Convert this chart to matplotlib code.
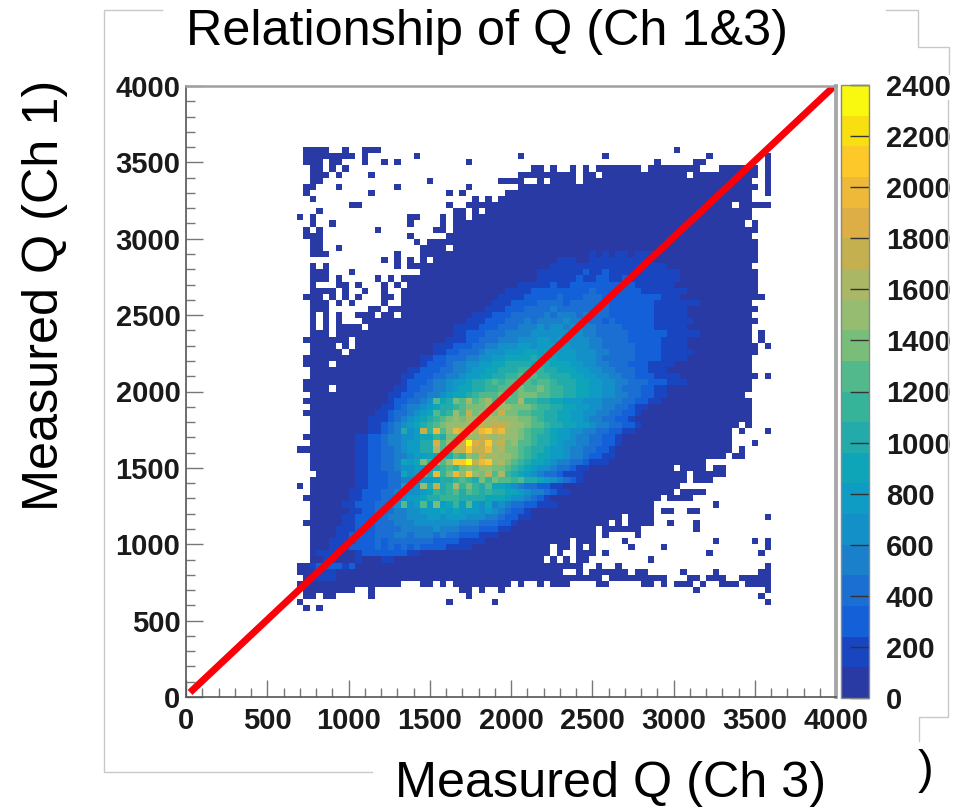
# Relationship of measured Q between channels 1 and 3, colz style histogram

import numpy as np
import matplotlib
matplotlib.use('Agg')
import matplotlib.pyplot as plt
from matplotlib.colors import ListedColormap, BoundaryNorm
from matplotlib.lines import Line2D
from matplotlib.ticker import MultipleLocator

binWidth = 40
nBins = 100
maxQ = 4000

# row bin -> x bins holding at least one count
filledBins = {
	89: "18-21 24 27-29 75",
	88: "18-25 27 35 51 64 80 89",
	87: "18-20 22-23 27 30 32 43 72 78-79 89",
	86: "19-20 22 24 53-54 56 59 61 63-69 71-78 82-87 89",
	85: "19-21 23 28 51-59 61-62 64-76 78-87 89",
	84: "19-20 37 48-51 54 56-59 61-86 89",
	83: "18-19 23 32 43 51-87 89",
	82: "18 28 40 42 49-86 89",
	81: "19 44 46 48-86",
	80: "25-26 40 43-83 85-89",
	79: "20 41-42 44 46-86",
	78: "17 19 34-35 39 41-42 44-86",
	77: "19 22 34 39 41-85 87",
	76: "18 20 29 38-39 41-87",
	75: "18-20 34 40-86",
	74: "19-20 35 37-87",
	73: "19-20 23 36-39 41-87",
	72: "19-21 32 36-87",
	71: "30 32 34 36 38-87",
	70: "19 21 32 34-86",
	69: "19-21 25 36-87",
	68: "19-21 23 29 31 33-87",
	67: "19 23-24 26 30 32 34-87",
	66: "19-22 24 27 30 33-87",
	65: "18-20 22 24 26 30-31 33-88",
	64: "19-21 23 25 30 33-86",
	63: "19-21 28-29 31-87",
	62: "19 21 23 26-28 30-31 33-86",
	61: "19 21 23 27-87",
	60: "19 21 23-26 28-86",
	59: "19-21 23-86 88",
	58: "18-24 26-86 88",
	57: "19-22 24 26-87 89",
	56: "19-23 25-87",
	55: "18-86",
	54: "18-21 23-86",
	53: "19-86",
	52: "19-87 89",
	51: "18-86",
	50: "18-21 23-86",
	49: "19-85",
	48: "18-86",
	47: "19-86",
	46: "18-86",
	45: "19-86",
	44: "19-84 86",
	43: "19-83 85 89",
	42: "18-83",
	41: "19-83 87",
	40: "17-83 85",
	39: "19-82 84-85",
	38: "19-79",
	37: "19-74 76-79 81-82",
	36: "20-76 78-82",
	35: "19-76 78-80",
	34: "17 19-75",
	33: "19-74 76-79",
	32: "18-72 74-77",
	31: "19-71 81",
	30: "19-71 73-74 77-78",
	29: "19-66 68-71 89",
	28: "18-64 66 68-71 74 78",
	27: "19-62 64-69 78",
	26: "19-62 64 69",
	25: "19-58 60-62 67 81 87 89",
	24: "19-55 57-58 60 62 68 73 89",
	23: "19-55 57 60-62 64 80 88",
	22: "19-54 56 58 60-61 71",
	21: "17-60 63 66 89",
	20: "17-57 60 62-67 69-70 76 81 88-89",
	19: "18-63 65-73 77-78 80-82 85-89",
	18: "17-32 36-37 39 41-49 51 54 56-58 63-64 70-71 73 75-77 79 82-84 86-89",
	17: "18-25 28 42-43 45 48 78 89",
	16: "18-19 21-22 28 43 88",
	15: "17 40 47 89",
	14: "18 20",
}

# row bin -> (first x bin, contour level per bin in base 36), the rest of a filled row is level 0
coreLevels = {
	72: (62, "1010110111"),
	71: (57, "111001111111111"),
	70: (56, "111111111111111111"),
	69: (54, "1111111211211111111111"),
	68: (54, "1111112112211211111111"),
	67: (51, "111112112222222222111111"),
	66: (49, "1111222222222322222221111111"),
	65: (48, "1111222223222333222222222111"),
	64: (47, "11122223333233333322222221111111"),
	63: (46, "1112223333433333333222222211111"),
	62: (44, "111222333334344434333222222211111"),
	61: (43, "11122233343444454443323222222111111"),
	60: (41, "111122233344454554554433332222211111"),
	59: (41, "11222333444455555555443333322222211111"),
	58: (40, "1112233344455566565555443333222221111"),
	57: (38, "111222334455566566666555443333322221111"),
	56: (38, "1122333455566677677666555443333222211111"),
	55: (36, "11223334455667777877766655543333322221111"),
	54: (36, "122234455667788887887776655443332221111"),
	53: (34, "1122233445667788899898877766554433322111"),
	52: (33, "112223344566778899a9a9988877665544332221111"),
	51: (33, "12223445667889a9aa9a9aa988877665544333222111"),
	50: (32, "1122334456778899aaabaaba998877665543332211"),
	49: (31, "11223344567789aaabbabbbaa998877665544332211"),
	48: (31, "1223345a78badabdadaad998877666555444332211"),
	47: (30, "112344567889abbbcbccbbba99887766554433211"),
	46: (29, "112334567a89caebcebebbaa99887766554433221"),
	45: (28, "11123456789abcbdcdddcccbba988776654433221"),
	44: (28, "1123456789abcccddedeedccbaa988776654433221"),
	43: (28, "11234856e9gacgfheghfgccba9987665544332211"),
	42: (26, "11223445567798bbbdcedcdccba98876654433221"),
	41: (26, "112234456688facfejfehdebcaa98876554433221"),
	40: (26, "112233456688daaeeheegcdbba98876654433221"),
	39: (26, "112233445667798a9cbecdccba98776654432211"),
	38: (26, "1122334767b9eachhjeghcdba98776544332111"),
	37: (26, "11223345566789a9bcbccbba987655433211"),
	36: (26, "1122233756a8g9bgchcbead987654332111"),
	35: (26, "1122233445667889a98b9baa9a887654321"),
	34: (26, "1122233645c8e89d9b98a77654332211"),
	33: (25, "1122233445567989a8a989887765443211"),
	32: (25, "1122233456678899988887776554321"),
	31: (24, "112223345a56a6b6796a6574543322111"),
	30: (25, "1122333445566676766656543221"),
	29: (24, "11222334445556656665554432211"),
	28: (24, "112223334445555555444333221"),
	27: (23, "111222333344444544433322211"),
	26: (23, "1122223334434443433222111"),
	25: (22, "111122232333333322221111"),
	24: (22, "1112222323232322221111"),
	23: (20, "1110001222222211"),
	22: (21, "11000100011"),
	21: (19, "1222212"),
	20: (20, "111"),
	19: (20, "111"),
}

# contour bands of the palette, bottom to top
bandColors = ['#2a3aa5', '#1a45c0', '#1460d8', '#1b6fd2', '#1a80cc', '#1490c8', '#0e9cc5', '#0fa5b8', '#22abaa', '#35b49a',
	'#52b98c', '#78bd7a', '#95bc70', '#aab765', '#c5b04f', '#dcae45', '#eeb838', '#fcc82a', '#f8e010', '#f8f90e']
bandStep = 120

fitLineX = [25, 3985]
fitLineY = [30, 3995]

majorTicks = [0, 500, 1000, 1500, 2000, 2500, 3000, 3500, 4000]
barTicks = list(range(0, 2401, 200))

titleText = 'Relationship of Q (Ch 1&3)'
xLabelText = 'Measured Q (Ch 3)'
yLabelText = 'Measured Q (Ch 1)'

# pieces of the light frame left around the pasted plot, in pixels
framePieces = [
	[(162, 10), (104, 10), (104, 772), (372, 772)],
	[(886, 10), (918, 10), (918, 47), (949, 47), (949, 74)],
	[(948, 100), (948, 717), (919, 717), (919, 741)],
]

figW = 956
figH = 810


def px(x, y):
	return x / figW, 1 - y / figH


def axesRect(left, top, right, bottom):
	return [left / figW, 1 - bottom / figH, (right - left) / figW, (bottom - top) / figH]


def build_counts():
	counts = np.full((nBins, nBins), np.nan)
	for row, spans in filledBins.items():
		for span in spans.split():
			parts = span.split('-')
			counts[row, int(parts[0]):int(parts[-1]) + 1] = 0.5 * bandStep
	for row, (first, levels) in coreLevels.items():
		for i, ch in enumerate(levels):
			if not np.isnan(counts[row, first + i]):
				counts[row, first + i] = (int(ch, 36) + 0.5) * bandStep
	return np.ma.masked_invalid(counts)


plt.rcParams['font.family'] = ['Liberation Sans', 'DejaVu Sans']

fig = plt.figure(figsize=(figW / 100, figH / 100), dpi=100)
ax = fig.add_axes(axesRect(186, 86, 836, 697))

edges = np.arange(nBins + 1) * binWidth
cmap = ListedColormap(bandColors)
norm = BoundaryNorm(np.arange(len(bandColors) + 1) * bandStep, cmap.N)
mesh = ax.pcolormesh(edges, edges, build_counts(), cmap=cmap, norm=norm, linewidth=0, rasterized=True)
ax.plot(fitLineX, fitLineY, color='#fa0008', lw=5, solid_capstyle='butt')
ax.set_xlim(0, maxQ)
ax.set_ylim(0, maxQ)

ax.set_xticks(majorTicks)
ax.set_yticks(majorTicks)
ax.xaxis.set_minor_locator(MultipleLocator(100))
ax.yaxis.set_minor_locator(MultipleLocator(100))
ax.tick_params(which='major', direction='in', length=12.5, width=1, color='#777777', labelsize=21)
ax.tick_params(which='minor', direction='in', length=6.5, width=1, color='#777777')
ax.tick_params(axis='x', which='major', pad=7)
ax.tick_params(axis='y', which='major', pad=4)
for lab in ax.get_xticklabels() + ax.get_yticklabels():
	lab.set_fontweight('bold')
	lab.set_color('#1a1a1a')
ax.spines['left'].set_color('#555555')
ax.spines['bottom'].set_color('#555555')
ax.spines['left'].set_linewidth(1.2)
ax.spines['bottom'].set_linewidth(1.2)
ax.spines['top'].set_color('#a0a0a0')
ax.spines['top'].set_linewidth(1.8)
ax.spines['right'].set_color('#a8a8a8')
ax.spines['right'].set_linewidth(2.8)

cax = fig.add_axes(axesRect(841, 85, 869, 698))
bar = fig.colorbar(mesh, cax=cax, spacing='proportional', ticks=barTicks)
bar.ax.minorticks_off()
bar.ax.tick_params(direction='in', length=14, width=1, color='#333333', pad=12, labelsize=21)
for lab in bar.ax.get_yticklabels():
	lab.set_fontweight('bold')
	lab.set_color('#1a1a1a')
bar.outline.set_edgecolor('#888888')
bar.outline.set_linewidth(1)

for piece in framePieces:
	xs = [px(*p)[0] for p in piece]
	ys = [px(*p)[1] for p in piece]
	fig.add_artist(Line2D(xs, ys, transform=fig.transFigure, color='#c8c8c8', lw=1))

fig.text(*px(487, 32), titleText, fontsize=36.3, ha='center', va='center', color='black')
fig.text(*px(611, 784), xLabelText, fontsize=36.3, ha='center', va='center', color='black')
fig.text(*px(45, 295), yLabelText, fontsize=36.3, rotation=90, ha='center', va='center', color='black')
fig.text(*px(926, 771), ')', fontsize=34, ha='center', va='center', color='black')

fig.savefig('out.png', dpi=100)
